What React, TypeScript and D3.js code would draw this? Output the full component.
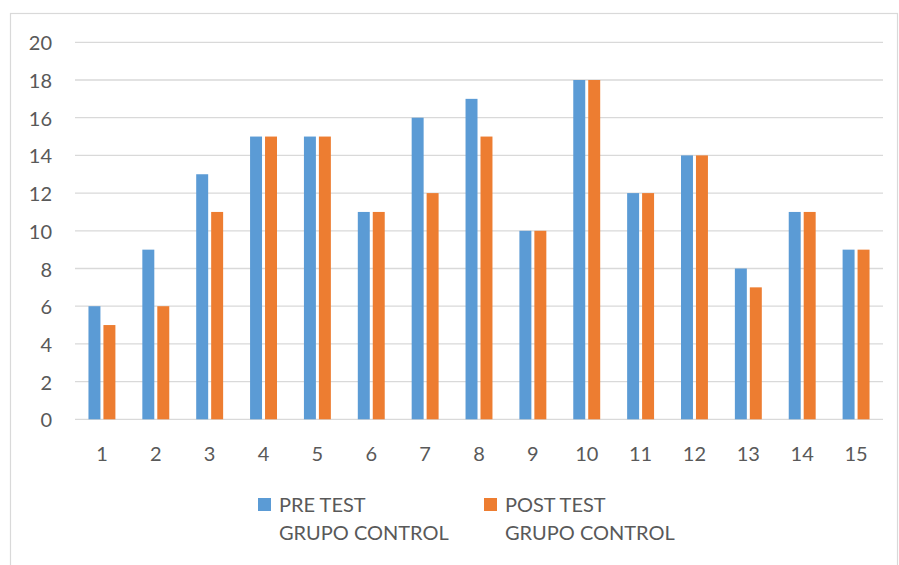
import React from "react";
import * as d3 from "d3";

const categories = ["1","2","3","4","5","6","7","8","9","10","11","12","13","14","15"];
const preTest = [6, 9, 13, 15, 15, 11, 16, 17, 10, 18, 12, 14, 8, 11, 9];
const postTest = [5, 6, 11, 15, 15, 11, 12, 15, 10, 18, 12, 14, 7, 11, 9];
const yTicks = [0, 2, 4, 6, 8, 10, 12, 14, 16, 18, 20];
const seriesNames = [["PRE TEST", "GRUPO CONTROL"], ["POST TEST", "GRUPO CONTROL"]];
const colors = ["#5B9BD5", "#ED7D31"];

const W = 899, H = 565;
const left = 75, right = 883, top = 42.3, bottom = 419.3;
const font = "Lato, 'Open Sans', sans-serif";
const textColor = "#595959";

export default function App() {
  const x = d3.scaleBand<string>().domain(categories).range([left, right]).paddingInner(0.5).paddingOuter(0.25);
  const inner = d3.scaleBand<string>().domain(["pre", "post"]).range([0, x.bandwidth()]).paddingInner(0.2);
  const y = d3.scaleLinear().domain([0, 20]).range([bottom, top]);
  const series = [preTest, postTest];
  const keys = ["pre", "post"];
  const legendX = [258, 484];

  return (
    <svg width={W} height={H} style={{ position: "absolute", left: 0, top: 0 }} xmlns="http://www.w3.org/2000/svg">
      <rect x={0} y={0} width={W} height={H} fill="#fff" />
      <rect x={10.5} y={13.5} width={887} height={600} fill="#fff" stroke="#d9d9d9" strokeWidth={1.2} />
      {yTicks.map((t) => (
        <g key={t}>
          <line x1={left} x2={right} y1={y(t)} y2={y(t)} stroke="#d9d9d9" strokeWidth={1.3} />
          <text x={52} y={y(t)} textAnchor="end" dominantBaseline="central" fontFamily={font} fontSize={20} fill={textColor}>{t}</text>
        </g>
      ))}
      {series.map((vals, si) =>
        vals.map((v, i) => (
          <rect key={si + "-" + i}
            x={(x(categories[i]) as number) + (inner(keys[si]) as number)}
            y={y(v)}
            width={inner.bandwidth()}
            height={y(0) - y(v)}
            fill={colors[si]} />
        ))
      )}
      {categories.map((c) => (
        <text key={c} x={(x(c) as number) + x.bandwidth() / 2} y={461} textAnchor="middle" fontFamily={font} fontSize={20} fill={textColor}>{c}</text>
      ))}
      {seriesNames.map((lines, si) => (
        <g key={si}>
          <rect x={legendX[si]} y={498} width={13} height={13} fill={colors[si]} />
          {lines.map((l, li) => (
            <text key={li} x={legendX[si] + 21} y={512 + li * 28} fontFamily={font} fontSize={20} fill={textColor}>{l}</text>
          ))}
        </g>
      ))}
    </svg>
  );
}
